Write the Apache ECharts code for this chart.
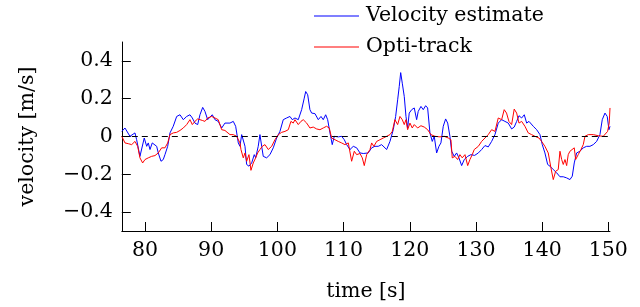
<!DOCTYPE html>
<html>
<head>
<meta charset="utf-8">
<script src="https://cdn.jsdelivr.net/npm/echarts@6/dist/echarts.min.js"></script>
<style>
html,body{margin:0;padding:0;background:#fff;}
#chart{width:640px;height:307px;}
</style>
</head>
<body>
<div id="chart"></div>
<script>
// Tick values
var xTicks = [80, 90, 100, 110, 120, 130, 140, 150];
var yTicks = [-0.4, -0.2, 0, 0.2, 0.4];

// Velocity estimate (blue): time [s], velocity [m/s]
var blueT = [76.5,76.98,77.73,77.99,78.49,78.74,79.24,79.50,79.89,80.26,80.50,80.76,81.10,81.40,81.77,82.01,82.42,82.76,83.02,83.43,83.78,84.27,84.79,85.29,85.79,86.30,86.80,87.15,87.55,87.96,88.31,88.72,89.06,89.47,89.82,90.17,90.57,91.07,91.59,92.08,92.84,93.34,93.70,94.10,94.35,94.61,94.86,95.11,95.36,95.71,96.12,96.51,96.72,97.11,97.37,97.63,97.87,98.38,98.88,99.38,99.89,100.39,100.89,101.40,101.90,102.25,102.66,103.16,103.67,104.06,104.28,104.58,104.92,105.18,105.68,106.18,106.59,106.93,107.30,107.60,107.95,108.29,108.60,109.20,109.71,110.11,110.47,110.97,111.47,111.98,112.48,112.98,113.23,113.73,114.24,114.74,115.24,115.75,116.51,117.01,117.51,117.87,118.17,118.41,118.63,118.87,119.17,119.43,119.68,119.92,120.29,120.68,121.04,121.28,121.69,122.04,122.40,122.70,123.05,123.40,123.70,124.06,124.41,124.71,125.06,125.42,125.73,126.07,126.33,126.72,127.08,127.43,127.84,128.23,128.75,129.24,129.80,130.36,130.86,131.36,131.86,132.37,132.87,133.37,133.88,134.38,134.88,135.39,135.78,136.15,136.50,136.90,137.30,137.66,138.01,138.31,138.66,139.17,139.67,140.02,140.42,140.83,141.18,141.68,142.19,142.69,143.19,143.70,144.20,144.55,144.85,145.21,145.71,146.21,146.72,147.22,147.72,148.23,148.73,149.08,149.49,149.83,150.09,150.25];
var blueV = [0.027,0.045,0.001,-0.008,0.019,-0.017,-0.105,-0.096,-0.008,-0.052,-0.034,-0.069,-0.034,-0.026,-0.052,-0.087,-0.131,-0.122,-0.096,-0.052,0.019,0.054,0.106,0.115,0.089,0.106,0.115,0.098,0.071,0.063,0.115,0.154,0.133,0.089,0.103,0.115,0.089,0.080,0.045,0.071,0.071,0.080,0.054,-0.034,-0.052,0.010,0.019,-0.052,-0.148,-0.157,-0.140,-0.096,-0.113,-0.052,0.010,-0.052,-0.105,-0.113,-0.096,-0.060,-0.008,0.027,0.089,0.098,0.106,0.089,0.098,0.089,0.142,0.203,0.238,0.221,0.142,0.124,0.121,0.089,0.106,0.089,0.115,0.089,0.019,-0.043,0.001,-0.002,0.001,-0.017,-0.043,-0.069,-0.052,-0.060,-0.087,-0.090,-0.096,-0.087,-0.060,-0.052,-0.052,-0.043,-0.069,-0.026,0.036,0.106,0.194,0.264,0.338,0.282,0.212,0.106,0.045,0.124,0.142,0.151,0.089,0.133,0.159,0.142,0.163,0.151,0.019,-0.026,0.001,-0.087,-0.052,-0.034,0.054,0.093,0.071,0.001,-0.078,-0.105,-0.087,-0.113,-0.154,-0.122,-0.105,-0.096,-0.100,-0.087,-0.069,-0.048,-0.055,-0.026,0.010,0.071,0.089,0.080,0.071,0.040,0.050,0.080,0.110,0.098,0.115,0.071,0.080,0.085,0.054,0.036,0.010,-0.043,-0.087,-0.148,-0.157,-0.175,-0.192,-0.213,-0.213,-0.219,-0.228,-0.210,-0.140,-0.087,-0.078,-0.060,-0.052,-0.052,-0.043,-0.026,0.010,0.089,0.124,0.106,0.036,0.054];

// Opti-track (red): time [s], velocity [m/s]
var redT = [76.5,76.98,77.48,77.99,78.49,78.90,79.24,79.65,80.00,80.50,81.01,81.51,82.01,82.52,83.02,83.43,83.78,84.27,84.79,85.29,85.79,86.30,86.80,87.15,87.55,87.96,88.31,88.66,89.06,89.47,90.08,90.57,91.07,91.59,92.08,92.84,93.34,93.85,94.35,94.50,94.85,95.11,95.36,95.71,96.01,96.36,96.72,97.02,97.37,97.72,98.13,98.63,99.14,99.64,100.14,100.65,101.15,101.65,102.05,102.40,102.66,103.16,103.56,103.91,104.43,104.92,105.42,105.93,106.43,106.93,107.43,107.84,108.20,108.70,109.20,109.71,110.21,110.72,111.22,111.62,111.98,112.48,112.83,113.13,113.49,113.99,114.24,114.58,115.00,115.50,116.00,116.51,117.01,117.36,117.76,118.17,118.52,118.87,119.17,119.43,119.68,120.03,120.38,120.68,121.19,121.69,122.19,122.70,123.20,123.81,124.56,125.21,125.82,126.22,126.42,126.83,127.23,127.58,127.93,128.34,128.75,129.09,129.44,129.74,130.36,130.86,131.36,131.86,132.37,132.87,133.37,133.88,134.27,134.62,134.98,135.39,135.78,136.15,136.50,136.90,137.40,137.90,138.41,138.91,139.52,139.92,140.42,140.92,141.33,141.68,142.04,142.43,142.69,142.95,143.19,143.45,143.70,143.94,144.20,144.45,144.85,145.06,145.45,145.86,146.21,146.47,146.97,147.72,148.48,149.23,149.89,150.13,150.25];
var redV = [0.001,-0.034,-0.038,-0.043,-0.026,-0.052,-0.113,-0.140,-0.122,-0.113,-0.105,-0.101,-0.087,-0.060,-0.060,-0.034,0.010,0.019,0.022,0.032,0.045,0.063,0.089,0.063,0.080,0.093,0.089,0.085,0.080,0.098,0.106,0.098,0.089,0.036,0.032,0.010,0.010,0.001,-0.034,-0.069,-0.113,-0.087,-0.131,-0.096,-0.179,-0.140,-0.113,-0.087,-0.069,-0.052,-0.043,-0.069,-0.052,-0.017,0.010,0.022,0.027,0.036,0.080,0.071,0.089,0.063,0.080,0.089,0.071,0.045,0.050,0.040,0.036,0.045,0.054,0.045,-0.008,-0.017,-0.026,-0.034,-0.043,-0.034,-0.131,-0.078,-0.096,-0.090,-0.113,-0.154,-0.096,-0.069,-0.034,-0.052,-0.026,-0.017,-0.008,0.001,0.010,0.027,0.089,0.063,0.106,0.089,0.063,0.089,0.036,0.071,0.045,0.063,0.045,0.057,0.050,0.036,0.010,0.001,-0.002,0.001,-0.008,-0.017,-0.113,-0.105,-0.122,-0.096,-0.113,-0.096,-0.154,-0.122,-0.096,-0.069,-0.052,-0.026,-0.008,0.010,0.036,0.027,0.098,0.089,0.142,0.124,0.080,0.063,0.145,0.124,0.071,0.080,0.054,0.019,0.010,0.001,-0.008,-0.026,-0.052,-0.087,-0.166,-0.228,-0.184,-0.175,-0.078,-0.122,-0.148,-0.122,-0.154,-0.096,-0.078,-0.069,-0.060,-0.122,-0.096,-0.069,-0.043,0.001,0.010,0.010,0.004,0.001,0.027,0.071,0.151];

function pairs(t, v) { return t.map(function (x, i) { return [x, v[i]]; }); }

var FONT = 'DejaVu Serif';
var FS = 20.5;
var chart = echarts.init(document.getElementById('chart'), null, {renderer: 'canvas'});
chart.setOption({
  animation: false,
  backgroundColor: '#ffffff',
  textStyle: {fontFamily: FONT},
  grid: {left: 121.8, right: 30, top: 42, bottom: 75.3, containLabel: false},
  legend: {
    orient: 'vertical', left: 309, top: -1,
    icon: 'rect', itemWidth: 45, itemHeight: 1.2, itemGap: 7,
    textStyle: {fontFamily: FONT, fontSize: FS, color: '#000', lineHeight: 24, padding: [0, 0, 0, 2]},
    data: ['Velocity estimate', 'Opti-track']
  },
  xAxis: {
    type: 'value', min: 76.5, max: 150.25,
    name: 'time [s]', nameLocation: 'middle', nameGap: 50,
    nameTextStyle: {fontFamily: FONT, fontSize: FS, color: '#000'},
    axisLine: {show: true, onZero: false, lineStyle: {color: '#000', width: 1}},
    axisTick: {show: true, inside: true, length: 9, customValues: xTicks, lineStyle: {color: '#000', width: 1}},
    axisLabel: {customValues: xTicks, margin: 9, fontFamily: FONT, fontSize: FS, color: '#000'},
    splitLine: {show: false}
  },
  yAxis: {
    type: 'value', min: -0.5, max: 0.5,
    name: 'velocity [m/s]', nameLocation: 'middle', nameGap: 84, nameRotate: 90,
    nameTextStyle: {fontFamily: FONT, fontSize: FS, color: '#000'},
    axisLine: {show: true, onZero: false, lineStyle: {color: '#000', width: 1}},
    axisTick: {show: true, inside: true, length: 9, customValues: yTicks, lineStyle: {color: '#000', width: 1}},
    axisLabel: {customValues: yTicks, margin: 9, fontFamily: FONT, fontSize: FS, color: '#000',
      formatter: function (v) { return v < 0 ? '\u2212' + Math.abs(v) : String(v); }},
    splitLine: {show: false}
  },
  series: [
    {
      name: 'Velocity estimate', type: 'line', data: pairs(blueT, blueV),
      symbol: 'none', lineStyle: {color: '#0000ff', width: 1}, itemStyle: {color: '#0000ff'},
      clip: true,
      markLine: {
        silent: true, symbol: 'none', label: {show: false},
        lineStyle: {color: '#000', type: [6, 4], width: 1},
        data: [{yAxis: 0}]
      }
    },
    {
      name: 'Opti-track', type: 'line', data: pairs(redT, redV),
      symbol: 'none', lineStyle: {color: '#ff0000', width: 1}, itemStyle: {color: '#ff0000'},
      clip: true
    }
  ]
});
</script>
</body>
</html>
